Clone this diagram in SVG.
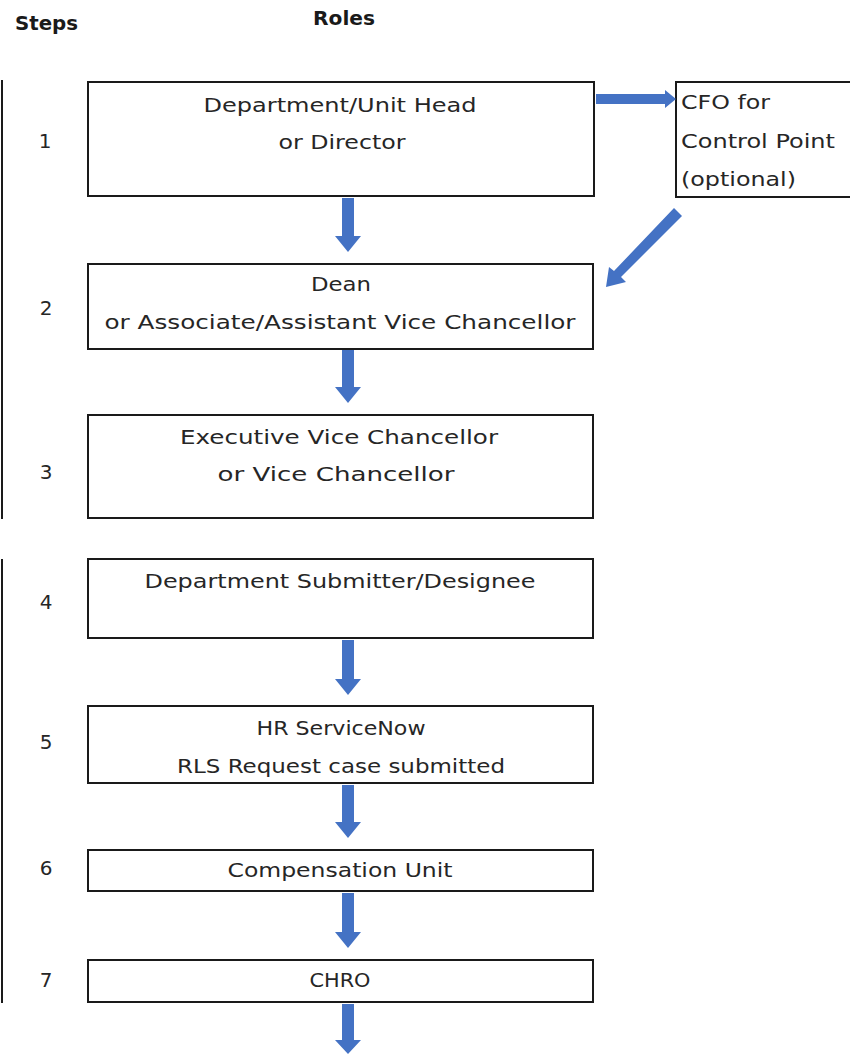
<svg xmlns="http://www.w3.org/2000/svg" width="850" height="1054" viewBox="0 0 850 1054">
<defs>
<style>
.box{fill:#fff;stroke:#1a1a1a;stroke-width:2}
.t{font-family:"DejaVu Sans","Liberation Sans",sans-serif;font-size:20px;fill:#262626}
.c{text-anchor:middle}
.h{font-family:"DejaVu Sans","Liberation Sans",sans-serif;font-size:20px;font-weight:bold;fill:#1a1a1a}
.br{fill:none;stroke:#1a1a1a;stroke-width:2}
.arr{fill:#4472C4}
</style>
</defs>
<rect width="850" height="1054" fill="#fff"/>
<g id="headers">
<text class="h" x="15" y="30" textLength="63" lengthAdjust="spacingAndGlyphs">Steps</text>
<text class="h" x="313" y="25" textLength="62" lengthAdjust="spacingAndGlyphs">Roles</text>
</g>
<g id="brackets">
<line class="br" x1="2" y1="80" x2="2" y2="519"/>
<line class="br" x1="2" y1="559" x2="2" y2="1003"/>
</g>
<g id="steps">
<text class="t c" x="45" y="148">1</text>
<text class="t c" x="46" y="315">2</text>
<text class="t c" x="46" y="479">3</text>
<text class="t c" x="46" y="609">4</text>
<text class="t c" x="46" y="749">5</text>
<text class="t c" x="46" y="875">6</text>
<text class="t c" x="46" y="987">7</text>
</g>
<g id="node1">
<rect class="box" x="88" y="82" width="506" height="114"/>
<text class="t c" x="340" y="112" textLength="273" lengthAdjust="spacingAndGlyphs">Department/Unit Head</text>
<text class="t c" x="342" y="149" textLength="127" lengthAdjust="spacingAndGlyphs">or Director</text>
</g>
<g id="cfo">
<rect class="box" x="676" y="82" width="190" height="115"/>
<text class="t" x="681" y="109" textLength="89" lengthAdjust="spacingAndGlyphs">CFO for</text>
<text class="t" x="681" y="148" textLength="154" lengthAdjust="spacingAndGlyphs">Control Point</text>
<text class="t" x="681" y="186" textLength="115" lengthAdjust="spacingAndGlyphs">(optional)</text>
</g>
<g id="node2">
<rect class="box" x="88" y="264" width="505" height="85"/>
<text class="t c" x="341" y="291" textLength="60" lengthAdjust="spacingAndGlyphs">Dean</text>
<text class="t c" x="340" y="329" textLength="471" lengthAdjust="spacingAndGlyphs">or Associate/Assistant  Vice Chancellor</text>
</g>
<g id="node3">
<rect class="box" x="88" y="415" width="505" height="103"/>
<text class="t c" x="339" y="444" textLength="318" lengthAdjust="spacingAndGlyphs">Executive Vice Chancellor</text>
<text class="t c" x="336" y="481" textLength="237" lengthAdjust="spacingAndGlyphs">or Vice Chancellor</text>
</g>
<g id="node4">
<rect class="box" x="88" y="559" width="505" height="79"/>
<text class="t c" x="340" y="588" textLength="391" lengthAdjust="spacingAndGlyphs">Department Submitter/Designee</text>
</g>
<g id="node5">
<rect class="box" x="88" y="706" width="505" height="77"/>
<text class="t c" x="341" y="735" textLength="169" lengthAdjust="spacingAndGlyphs">HR ServiceNow</text>
<text class="t c" x="341" y="773" textLength="328" lengthAdjust="spacingAndGlyphs">RLS Request case submitted</text>
</g>
<g id="node6">
<rect class="box" x="88" y="850" width="505" height="41"/>
<text class="t c" x="340" y="877" textLength="225" lengthAdjust="spacingAndGlyphs">Compensation Unit</text>
</g>
<g id="node7">
<rect class="box" x="88" y="960" width="505" height="42"/>
<text class="t c" x="340" y="987" textLength="61" lengthAdjust="spacingAndGlyphs">CHRO</text>
</g>
<g id="connectors">
<polygon class="arr" points="342,198 354,198 354,236 361,236 348,252 335,236 342,236"/>
<polygon class="arr" points="342,350 354,350 354,387 361,387 348,403 335,387 342,387"/>
<polygon class="arr" points="342,640 354,640 354,679 361,679 348,695 335,679 342,679"/>
<polygon class="arr" points="342,785 354,785 354,822 361,822 348,838 335,822 342,822"/>
<polygon class="arr" points="342,893 354,893 354,932 361,932 348,948 335,932 342,932"/>
<polygon class="arr" points="342,1004 354,1004 354,1040 361,1040 348,1054 335,1040 342,1040"/>
<polygon class="arr" points="596,94 665,94 665,90 676,99 665,108 665,104 596,104"/>
<polygon class="arr" points="674,208 682,216 621,277 626,282 606,287 609,267 614,271"/>
</g>
</svg>
